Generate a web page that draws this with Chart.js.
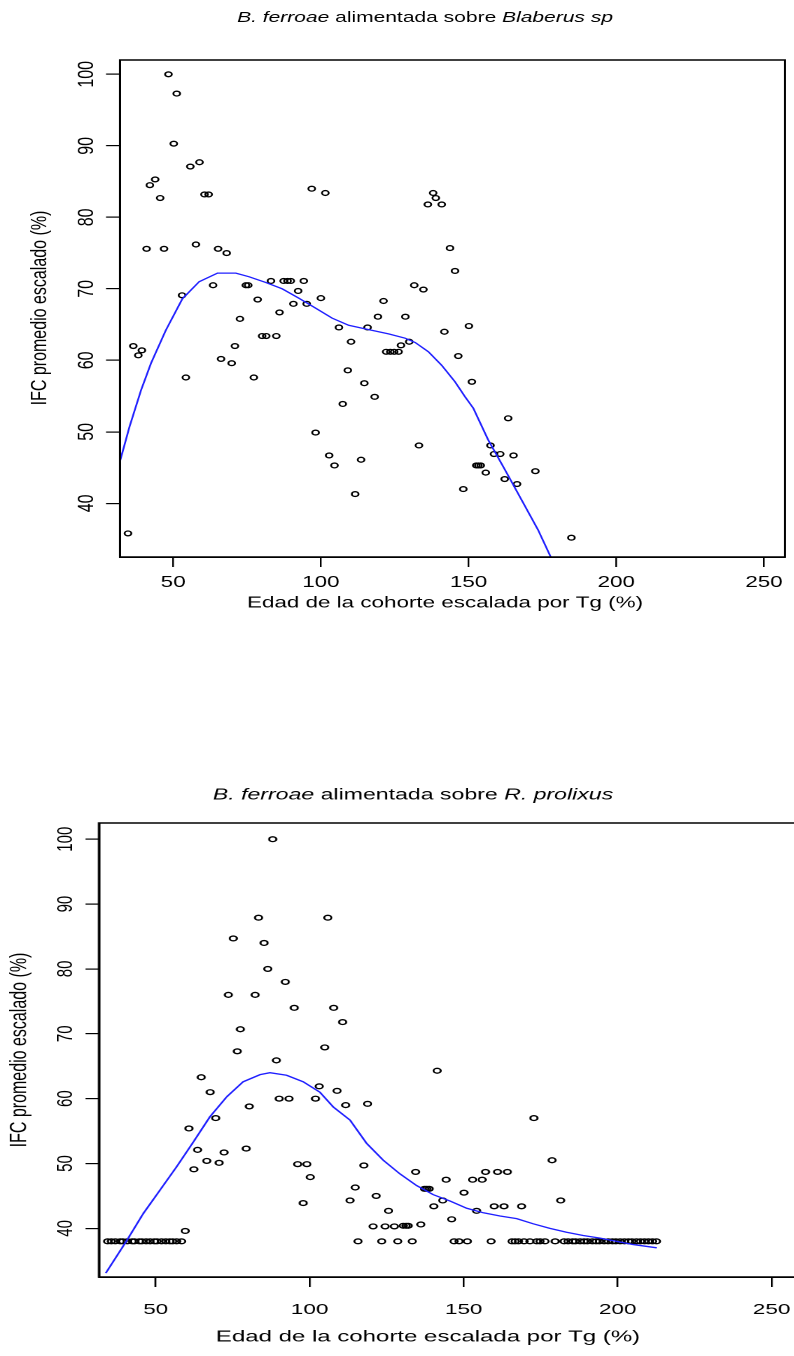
<!DOCTYPE html>
<html>
<head>
<meta charset="utf-8">
<script src="https://cdn.jsdelivr.net/npm/chart.js@4.4.1/dist/chart.umd.min.js"></script>
<style>
  html, body { margin: 0; padding: 0; background: #fff; overflow: hidden; width: 794px; height: 1356px; }
  .panel { position: absolute; left: 0; transform-origin: 0 0; }
  .panel canvas { display: block; }
</style>
</head>
<body>
<div class="panel" id="panelBlaberus"><canvas id="chartBlaberus"></canvas></div>
<div class="panel" id="panelProlixus"><canvas id="chartProlixus"></canvas></div>
<script>
// ---- B. ferroae fed on Blaberus sp ----
const ageBlaberus = [
  48.4, 51.2, 50.2, 55.8, 58.9, 43.9, 42.1, 45.6, 60.6, 62.0, 96.9, 101.5,
  41.0, 46.9, 57.7, 65.2, 68.1, 63.5, 74.6, 75.4, 83.1, 87.4, 88.7, 89.8,
  94.2, 92.3, 100.0, 53.0, 78.6, 90.7, 95.2, 86.0, 72.6, 106.1, 115.8, 80.1,
  81.5, 84.9, 110.2, 70.9, 66.2, 69.8, 54.3, 77.3, 109.1, 114.7, 107.4, 98.2,
  102.8, 104.6, 113.6, 36.5, 39.4, 38.2, 34.7, 111.6, 138.0, 138.9, 136.2, 140.9,
  143.7, 145.4, 131.6, 134.7, 121.2, 119.3, 128.6, 141.8, 150.1, 129.9, 127.1, 122.1,
  123.5, 124.8, 126.3, 146.5, 118.2, 151.1, 163.4, 133.2, 157.4, 158.6, 160.7, 165.2,
  152.6, 153.3, 154.1, 155.8, 172.6, 162.2, 166.4, 148.2, 184.8
];
const ifcBlaberus = [
  100.0, 97.3, 90.3, 87.1, 87.7, 85.3, 84.5, 82.7, 83.2, 83.2, 84.0, 83.4,
  75.6, 75.6, 76.2, 75.6, 75.0, 70.5, 70.5, 70.5, 71.1, 71.1, 71.1, 71.1,
  71.1, 69.7, 68.7, 69.1, 68.5, 67.9, 67.9, 66.7, 65.8, 64.6, 64.6, 63.4,
  63.4, 63.4, 62.6, 62.0, 60.2, 59.6, 57.6, 57.6, 58.6, 56.8, 53.9, 49.9,
  46.7, 45.3, 46.1, 62.0, 61.4, 60.7, 35.8, 41.3, 83.4, 82.7, 81.8, 81.8,
  75.7, 72.5, 70.5, 69.9, 68.3, 66.1, 66.1, 64.0, 64.8, 62.6, 62.1, 61.2,
  61.2, 61.2, 61.2, 60.6, 54.9, 57.0, 51.9, 48.1, 48.1, 46.9, 46.9, 46.7,
  45.3, 45.3, 45.3, 44.3, 44.5, 43.4, 42.7, 42.0, 35.2
];
// smoothed trend (lowess)
const trendAgeBlaberus = [
  31.8, 35.2, 39.1, 42.5, 47.5, 53.1, 58.8, 65.0, 71.2, 75.6, 81.3, 86.9,
  92.5, 98.2, 103.8, 109.4, 115.0, 122.9, 128.5, 131.9, 136.4, 140.9, 145.4,
  148.8, 151.6, 156.6, 162.3, 167.9, 173.5, 177.8, 180.5
];
const trendIfcBlaberus = [
  45.6, 50.7, 55.8, 59.6, 64.2, 68.6, 71.0, 72.2, 72.2, 71.7, 70.9, 70.0,
  68.7, 67.3, 65.9, 64.9, 64.4, 63.7, 63.1, 62.5, 61.2, 59.3, 57.0,
  54.9, 53.3, 48.9, 44.7, 40.5, 36.3, 32.5, 30.5
];

// ---- B. ferroae fed on R. prolixus ----
const ageProlixus = [
  34.4, 35.6, 36.9, 38.5, 39.3, 40.8, 42.4, 43.1, 44.7, 45.5, 46.9, 48.2,
  49.6, 50.4, 51.9, 53.3, 54.6, 55.5, 56.8, 58.4,
  88.0, 83.4, 105.9, 75.2, 85.2, 86.4, 92.1, 73.6, 82.3, 95.0, 107.8, 110.7,
  77.5, 76.5, 104.9, 89.2, 64.8, 67.7, 103.1, 108.9, 90.1, 93.3, 101.9, 80.4,
  111.7, 69.5, 60.8, 63.6, 66.6, 70.6, 72.2, 79.4, 62.4, 96.1, 99.1, 100.2,
  97.9, 114.8, 113.1, 59.6, 141.4, 118.8, 172.8, 178.7, 117.6, 134.4, 157.1, 161.0,
  164.2, 144.3, 152.9, 156.0, 121.6, 150.1, 137.3, 138.0, 138.8, 140.3, 143.2, 159.9,
  163.1, 168.8, 181.5, 154.2, 125.6, 146.1, 120.6, 124.5, 127.5, 130.4, 131.3, 132.0,
  136.1,
  115.7, 123.4, 128.6, 133.3, 146.9, 148.5, 151.2, 158.9, 165.7, 166.7, 167.8, 169.6,
  171.5, 173.7, 174.8, 176.4, 179.7, 182.6, 183.9, 185.4, 186.3, 187.8, 189.1, 190.2,
  191.8, 193.0, 194.1, 195.6, 196.9, 198.3, 199.4, 200.8, 202.2, 203.5, 204.6, 206.1,
  207.4, 208.7, 210.0, 211.3, 212.6
];
const ifcProlixus = [
  38.0, 38.0, 38.0, 38.0, 38.0, 38.0, 38.0, 38.0, 38.0, 38.0, 38.0, 38.0,
  38.0, 38.0, 38.0, 38.0, 38.0, 38.0, 38.0, 38.0,
  100.0, 87.9, 87.9, 84.7, 84.0, 80.0, 78.0, 76.0, 76.0, 74.0, 74.0, 71.8,
  70.7, 67.3, 67.9, 65.9, 63.3, 61.0, 61.9, 61.2, 60.0, 60.0, 60.0, 58.8,
  59.0, 57.0, 55.4, 52.1, 50.4, 50.1, 51.7, 52.3, 49.1, 49.9, 49.9, 47.9,
  43.9, 46.3, 44.3, 39.6, 64.3, 59.2, 57.0, 50.5, 49.7, 48.7, 48.7, 48.7,
  48.7, 47.5, 47.5, 47.5, 45.0, 45.5, 46.1, 46.1, 46.1, 43.4, 44.3, 43.4,
  43.4, 43.4, 44.3, 42.7, 42.7, 41.4, 40.3, 40.3, 40.3, 40.4, 40.4, 40.4,
  40.6,
  38.0, 38.0, 38.0, 38.0, 38.0, 38.0, 38.0, 38.0, 38.0, 38.0, 38.0, 38.0,
  38.0, 38.0, 38.0, 38.0, 38.0, 38.0, 38.0, 38.0, 38.0, 38.0, 38.0, 38.0,
  38.0, 38.0, 38.0, 38.0, 38.0, 38.0, 38.0, 38.0, 38.0, 38.0, 38.0, 38.0,
  38.0, 38.0, 38.0, 38.0, 38.0
];
const trendAgeProlixus = [
  33.8, 40.6, 46.0, 51.4, 56.8, 62.2, 67.6, 73.1, 78.4, 83.9, 87.1, 92.5,
  97.9, 103.3, 107.7, 113.1, 118.5, 123.9, 129.3, 134.7, 140.1, 145.6, 151.0,
  156.4, 161.8, 167.2, 172.6, 178.0, 183.4, 188.8, 194.3, 205.1, 212.7
];
const trendIfcProlixus = [
  33.1, 38.1, 42.3, 45.9, 49.5, 53.3, 57.2, 60.3, 62.6, 63.7, 64.0, 63.6,
  62.6, 61.0, 58.7, 56.7, 53.1, 50.5, 48.4, 46.6, 45.2, 44.2, 43.1,
  42.4, 41.9, 41.5, 40.7, 40.0, 39.4, 38.9, 38.5, 37.5, 37.0
];

// shared axis ticks
const ageTicks = [50, 100, 150, 200, 250];
const ifcTicks = [40, 50, 60, 70, 80, 90, 100];

const xLabel = 'Edad de la cohorte escalada por Tg (%)';
const yLabel = 'IFC promedio escalado (%)';
const FONT = '"Liberation Sans", Arial, Helvetica, sans-serif';

function toPoints(xs, ys) { return xs.map((x, i) => ({ x: x, y: ys[i] })); }

// Text drawn on the panel canvas (titles, axis names); x given in page px.
function textPlugin(stretch, items) {
  return {
    id: 'panelText',
    afterDraw(chart) {
      const ctx = chart.ctx;
      items.forEach(item => {
        ctx.save();
        ctx.translate(item.x / stretch, item.y);
        if (item.rotate) ctx.rotate(item.rotate);
        ctx.fillStyle = '#000';
        ctx.textBaseline = 'middle';
        ctx.textAlign = 'left';
        const fonts = item.runs.map(r => (r.italic ? 'italic ' : '') + item.size + 'px ' + FONT);
        let total = 0;
        const widths = item.runs.map((r, i) => { ctx.font = fonts[i]; const w = ctx.measureText(r.text).width; total += w; return w; });
        let cx = -total / 2;
        item.runs.forEach((r, i) => { ctx.font = fonts[i]; ctx.fillText(r.text, cx, 0); cx += widths[i]; });
        ctx.restore();
      });
    }
  };
}

// Closed frame around the plotting region.
const framePlugin = {
  id: 'plotFrame',
  afterDraw(chart) {
    const a = chart.chartArea, ctx = chart.ctx;
    ctx.save();
    ctx.strokeStyle = '#000';
    ctx.lineWidth = 1.5;
    ctx.strokeRect(a.left, a.top, a.right - a.left, a.bottom - a.top);
    ctx.restore();
  }
};

function buildPanel(cfg) {
  const s = cfg.stretch;
  const W = Math.ceil(830 / s), H = cfg.height;
  const panel = document.getElementById(cfg.panelId);
  panel.style.top = cfg.top + 'px';
  panel.style.width = W + 'px';
  panel.style.height = H + 'px';
  panel.style.transform = 'scaleX(' + s + ')';
  const canvas = document.getElementById(cfg.canvasId);
  canvas.width = W; canvas.height = H;
  canvas.style.width = W + 'px'; canvas.style.height = H + 'px';

  const boxL = cfg.box.left / s, boxR = cfg.box.right / s;
  const boxT = cfg.box.top - cfg.top, boxB = cfg.box.bottom - cfg.top;

  return new Chart(canvas, {
    type: 'scatter',
    data: {
      datasets: [
        {
          type: 'line',
          data: toPoints(cfg.trendX, cfg.trendY),
          borderColor: '#1f1fff',
          borderWidth: 1.3,
          pointRadius: 0,
          fill: false,
          tension: 0,
          order: 0
        },
        {
          data: toPoints(cfg.x, cfg.y),
          pointStyle: 'circle',
          pointRadius: cfg.pointRadius,
          pointBorderWidth: 1.35,
          borderColor: '#000',
          backgroundColor: 'rgba(0,0,0,0)',
          order: 1
        }
      ]
    },
    options: {
      responsive: false,
      animation: false,
      devicePixelRatio: 2,
      events: [],
      layout: { padding: { left: 0, top: boxT, right: W - boxR, bottom: 0 } },
      plugins: { legend: { display: false }, tooltip: { enabled: false }, title: { display: false } },
      scales: {
        x: {
          type: 'linear',
          min: cfg.xMin, max: cfg.xMax,
          bounds: 'data',
          afterBuildTicks: sc => { sc.ticks = ageTicks.map(v => ({ value: v })); },
          afterFit: sc => { sc.height = H - boxB; },
          ticks: {
            autoSkip: false, minRotation: 0, maxRotation: 0,
            padding: cfg.xTickPad, color: '#000',
            font: { family: FONT, size: cfg.tickSize }
          },
          grid: { drawOnChartArea: false, drawTicks: true, tickLength: 10, color: '#000', lineWidth: 1.2 },
          border: { display: true, color: '#000', width: 1.5 }
        },
        y: {
          type: 'linear',
          min: cfg.yMin, max: cfg.yMax,
          bounds: 'data',
          afterBuildTicks: sc => { sc.ticks = ifcTicks.map(v => ({ value: v })); },
          afterFit: sc => { sc.width = boxL; },
          ticks: {
            autoSkip: false, minRotation: 90, maxRotation: 90, crossAlign: 'center',
            padding: cfg.yTickPad, color: '#000',
            font: { family: FONT, size: cfg.tickSize }
          },
          grid: { drawOnChartArea: false, drawTicks: true, tickLength: cfg.yTickLen, color: '#000', lineWidth: 1.2 },
          border: { display: true, color: '#000', width: 1.5 }
        }
      }
    },
    plugins: [framePlugin, textPlugin(s, cfg.texts)]
  });
}

buildPanel({
  panelId: 'panelBlaberus', canvasId: 'chartBlaberus',
  top: 0, height: 650, stretch: 1.4,
  box: { left: 120, right: 785, top: 60, bottom: 557 },
  xMin: 32.0, xMax: 257.1, yMin: 32.5, yMax: 102.0,
  x: ageBlaberus, y: ifcBlaberus, trendX: trendAgeBlaberus, trendY: trendIfcBlaberus,
  pointRadius: 2.4, tickSize: 16, xTickPad: 6, yTickPad: 0.5, yTickLen: 10,
  texts: [
    { x: 425, y: 18, size: 15, runs: [
      { text: 'B. ferroae', italic: true }, { text: ' alimentada sobre ', italic: false }, { text: 'Blaberus sp', italic: true } ] },
    { x: 445, y: 603, size: 16, runs: [{ text: xLabel }] },
    { x: 40, y: 308, size: 16, rotate: -Math.PI / 2, runs: [{ text: yLabel }] }
  ]
});

buildPanel({
  panelId: 'panelProlixus', canvasId: 'chartProlixus',
  top: 760, height: 596, stretch: 1.5,
  box: { left: 99, right: 800, top: 823, bottom: 1277 },
  xMin: 31.6, xMax: 259.2, yMin: 32.5, yMax: 102.5,
  x: ageProlixus, y: ifcProlixus, trendX: trendAgeProlixus, trendY: trendIfcProlixus,
  pointRadius: 2.4, tickSize: 15, xTickPad: 14, yTickPad: 0.5, yTickLen: 9,
  texts: [
    { x: 413, y: 35, size: 15.4, runs: [
      { text: 'B. ferroae', italic: true }, { text: ' alimentada sobre ', italic: false }, { text: 'R. prolixus', italic: true } ] },
    { x: 428, y: 577, size: 16, runs: [{ text: xLabel }] },
    { x: 20, y: 290, size: 16, rotate: -Math.PI / 2, runs: [{ text: yLabel }] }
  ]
});
</script>
</body>
</html>
